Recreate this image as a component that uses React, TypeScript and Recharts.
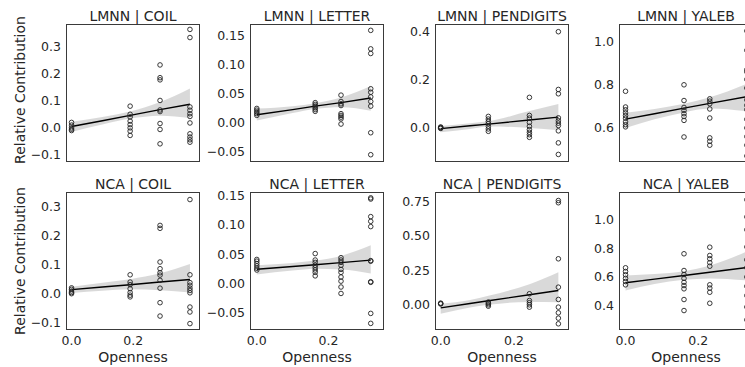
import React from 'react';
import { ComposedChart, Scatter, Line, Area, XAxis, YAxis } from 'recharts';

// Openness values per dataset (x groups)
const openCOIL = [0, 0.19, 0.287, 0.384];
const openLETTER = [0, 0.163, 0.235, 0.318];
const openPENDIGITS = [0, 0.13, 0.242, 0.321];
const openYALEB = [0, 0.161, 0.232, 0.334];

// Relative contribution values, one list per openness group
const lmnnCoil = [
  [0.02, 0.01, 0.0, -0.005, -0.01],
  [0.08, 0.05, 0.04, 0.025, 0.012, 0.0, -0.012, -0.028],
  [0.232, 0.185, 0.177, 0.101, 0.066, 0.06, 0.016, -0.006, -0.059],
  [0.363, 0.333, 0.077, 0.065, 0.052, 0.042, 0.018, -0.022, -0.034, -0.044, -0.053],
];
const lmnnLetter = [
  [0.024, 0.021, 0.018, 0.015, 0.012],
  [0.034, 0.031, 0.028, 0.025, 0.022, 0.019],
  [0.047, 0.036, 0.032, 0.029, 0.015, 0.012, 0.009, 0.006, -0.003],
  [0.159, 0.127, 0.119, 0.058, 0.052, 0.044, 0.036, 0.028, -0.018, -0.056],
];
const lmnnPendigits = [
  [0.004, 0.002, 0.0, -0.002],
  [0.048, 0.037, 0.027, 0.018, 0.007, -0.004, -0.014],
  [0.127, 0.052, 0.041, 0.023, 0.007, -0.007, -0.018, -0.028, -0.039],
  [0.4, 0.16, 0.142, 0.042, 0.03, 0.02, 0.01, -0.012, -0.062, -0.11],
];
const lmnnYaleb = [
  [0.77, 0.697, 0.684, 0.67, 0.657, 0.645, 0.628, 0.615, 0.605],
  [0.8, 0.727, 0.695, 0.681, 0.666, 0.653, 0.635, 0.558],
  [0.735, 0.724, 0.712, 0.688, 0.646, 0.554, 0.538, 0.52],
  [1.05, 0.96, 0.87, 0.86, 0.825, 0.785, 0.73, 0.705, 0.685, 0.64, 0.6, 0.56, 0.52, 0.47],
];
const ncaCoil = [
  [0.02, 0.015, 0.009, 0.004, 0.0],
  [0.065, 0.04, 0.031, 0.017, 0.004, -0.005, -0.011],
  [0.235, 0.225, 0.109, 0.086, 0.072, 0.064, 0.046, 0.019, -0.031, -0.077],
  [0.324, 0.065, 0.038, 0.029, 0.019, 0.011, 0.003, -0.046, -0.063, -0.103],
];
const ncaLetter = [
  [0.041, 0.038, 0.034, 0.03, 0.026, 0.023],
  [0.051, 0.04, 0.036, 0.031, 0.027, 0.023, 0.019, 0.013],
  [0.044, 0.04, 0.036, 0.031, 0.024, 0.019, 0.011, 0.004, -0.006, -0.017],
  [0.146, 0.144, 0.114, 0.106, 0.097, 0.039, 0.038, 0.003, 0.002, -0.051, -0.068],
];
const ncaPendigits = [
  [0.012, 0.009, 0.006],
  [0.02, 0.01, 0.0, -0.01],
  [0.08, 0.031, 0.015, 0.0, -0.017],
  [0.757, 0.741, 0.334, 0.128, 0.039, -0.017, -0.058, -0.097, -0.138],
];
const ncaYaleb = [
  [0.664, 0.638, 0.615, 0.59, 0.568, 0.545],
  [0.762, 0.645, 0.617, 0.59, 0.563, 0.54, 0.517, 0.442, 0.365],
  [0.808, 0.75, 0.727, 0.7, 0.675, 0.545, 0.522, 0.493, 0.416],
  [1.14, 1.02, 0.93, 0.81, 0.72, 0.665, 0.6, 0.535, 0.47, 0.39, 0.3],
];

// Regression fit and confidence band
const fitXCoil = [0, 0.1, 0.19, 0.287, 0.384];
const fitXLetter = [0, 0.1, 0.163, 0.235, 0.318];
const fitXPendigits = [0, 0.08, 0.13, 0.242, 0.321];
const fitXYaleb = [0, 0.08, 0.161, 0.232, 0.334];

const lmnnCoilFit = [0.005, 0.026, 0.046, 0.067, 0.087];
const lmnnCoilLo = [-0.015, 0.012, 0.034, 0.045, 0.036];
const lmnnCoilHi = [0.022, 0.04, 0.06, 0.095, 0.145];

const lmnnLetterFit = [0.013, 0.022, 0.028, 0.034, 0.042];
const lmnnLetterLo = [0.003, 0.016, 0.023, 0.026, 0.02];
const lmnnLetterHi = [0.024, 0.028, 0.033, 0.043, 0.063];

const lmnnPendigitsFit = [-0.003, 0.009, 0.016, 0.033, 0.045];
const lmnnPendigitsLo = [-0.018, -0.004, 0.006, 0.0, -0.01];
const lmnnPendigitsHi = [0.008, 0.02, 0.028, 0.07, 0.1];

const lmnnYalebFit = [0.641, 0.666, 0.692, 0.714, 0.745];
const lmnnYalebLo = [0.6, 0.64, 0.672, 0.69, 0.677];
const lmnnYalebHi = [0.67, 0.688, 0.712, 0.742, 0.805];

const ncaCoilFit = [0.014, 0.023, 0.031, 0.04, 0.049];
const ncaCoilLo = [0.002, 0.01, 0.015, 0.012, 0.004];
const ncaCoilHi = [0.024, 0.038, 0.05, 0.07, 0.102];

const ncaLetterFit = [0.0244, 0.029, 0.032, 0.0355, 0.0398];
const ncaLetterLo = [0.0154, 0.022, 0.025, 0.024, 0.017];
const ncaLetterHi = [0.031, 0.035, 0.039, 0.047, 0.065];

const ncaPendigitsFit = [-0.022, 0.009, 0.029, 0.073, 0.104];
const ncaPendigitsLo = [-0.065, -0.02, 0.0, 0.02, 0.019];
const ncaPendigitsHi = [0.007, 0.035, 0.065, 0.15, 0.237];

const ncaYalebFit = [0.559, 0.585, 0.61, 0.633, 0.666];
const ncaYalebLo = [0.505, 0.55, 0.58, 0.59, 0.575];
const ncaYalebHi = [0.61, 0.62, 0.64, 0.68, 0.778];

// Axis settings
const xTicks = [0, 0.2];
const xDomCoil = [-0.018, 0.4166];
const xDomLetter = [-0.019, 0.355];
const xDomPendigits = [-0.0155, 0.35];
const xDomYaleb = [-0.018, 0.351];

const titles = [
  ['LMNN | COIL', 'LMNN | LETTER', 'LMNN | PENDIGITS', 'LMNN | YALEB'],
  ['NCA | COIL', 'NCA | LETTER', 'NCA | PENDIGITS', 'NCA | YALEB'],
];

const panels = [
  [
    { open: openCOIL, ys: lmnnCoil, fx: fitXCoil, fit: lmnnCoilFit, lo: lmnnCoilLo, hi: lmnnCoilHi, xd: xDomCoil, yd: [-0.126, 0.383], yt: [-0.1, 0, 0.1, 0.2, 0.3], dec: 1 },
    { open: openLETTER, ys: lmnnLetter, fx: fitXLetter, fit: lmnnLetterFit, lo: lmnnLetterLo, hi: lmnnLetterHi, xd: xDomLetter, yd: [-0.0686, 0.17], yt: [-0.05, 0, 0.05, 0.1, 0.15], dec: 2 },
    { open: openPENDIGITS, ys: lmnnPendigits, fx: fitXPendigits, fit: lmnnPendigitsFit, lo: lmnnPendigitsLo, hi: lmnnPendigitsHi, xd: xDomPendigits, yd: [-0.1415, 0.432], yt: [0, 0.2, 0.4], dec: 1 },
    { open: openYALEB, ys: lmnnYaleb, fx: fitXYaleb, fit: lmnnYalebFit, lo: lmnnYalebLo, hi: lmnnYalebHi, xd: xDomYaleb, yd: [0.442, 1.082], yt: [0.6, 0.8, 1.0], dec: 1 },
  ],
  [
    { open: openCOIL, ys: ncaCoil, fx: fitXCoil, fit: ncaCoilFit, lo: ncaCoilLo, hi: ncaCoilHi, xd: xDomCoil, yd: [-0.125, 0.35], yt: [-0.1, 0, 0.1, 0.2, 0.3], dec: 1 },
    { open: openLETTER, ys: ncaLetter, fx: fitXLetter, fit: ncaLetterFit, lo: ncaLetterLo, hi: ncaLetterHi, xd: xDomLetter, yd: [-0.0793, 0.156], yt: [-0.05, 0, 0.05, 0.1, 0.15], dec: 2 },
    { open: openPENDIGITS, ys: ncaPendigits, fx: fitXPendigits, fit: ncaPendigitsFit, lo: ncaPendigitsLo, hi: ncaPendigitsHi, xd: xDomPendigits, yd: [-0.183, 0.819], yt: [0, 0.25, 0.5, 0.75], dec: 2 },
    { open: openYALEB, ys: ncaYaleb, fx: fitXYaleb, fit: ncaYalebFit, lo: ncaYalebLo, hi: ncaYalebHi, xd: xDomYaleb, yd: [0.229, 1.194], yt: [0.4, 0.6, 0.8, 1.0], dec: 1 },
  ],
];

const COL_LEFT = [66, 250, 435, 619];
const ROW_TOP = [24, 192];
const PW = 134;
const PH = 138;
const YW = 60;
const FONT = 'DejaVu Sans, sans-serif';
const TXT = '#262626';

const fmt = (d: number) => (v: number) => {
  const s = Number(v).toFixed(d);
  return s.startsWith('-') ? '\u2212' + s.slice(1) : s;
};

const OpenCircle = (p: any) => {
  if (p.cx == null || p.cy == null) return null;
  return <circle cx={p.cx} cy={p.cy} r={2.3} fill="none" stroke="#222" strokeWidth={0.9} />;
};

function Panel({ row, col }: { row: number; col: number }) {
  const cfg: any = panels[row][col];
  const left = COL_LEFT[col];
  const top = ROW_TOP[row];
  const bottom = row === 1;
  const scatterData = cfg.open.flatMap((x: number, i: number) => cfg.ys[i].map((y: number) => ({ x, y })));
  const lineData = cfg.fx.map((x: number, i: number) => ({ x, y: cfg.fit[i] }));
  const bandData = cfg.fx.map((x: number, i: number) => ({ x, band: [cfg.lo[i], cfg.hi[i]] }));
  const tickStyle = { fontSize: 12.5, fill: TXT, fontFamily: FONT };
  return (
    <>
      <div style={{ position: 'absolute', left: left - YW, top: top - 4 }}>
        <ComposedChart
          width={YW + PW + 6}
          height={bottom ? 4 + PH + 22 : 4 + PH + 4}
          margin={{ top: 4, right: 6, bottom: bottom ? 0 : 4, left: 0 }}
        >
          <XAxis
            type="number"
            dataKey="x"
            domain={cfg.xd}
            allowDataOverflow
            ticks={xTicks}
            hide={!bottom}
            height={22}
            tickFormatter={fmt(1)}
            tick={tickStyle}
            tickLine={false}
            axisLine={false}
            tickSize={4}
            tickMargin={2}
          />
          <YAxis
            type="number"
            dataKey="y"
            domain={cfg.yd}
            allowDataOverflow
            ticks={cfg.yt}
            width={YW}
            tickFormatter={fmt(cfg.dec)}
            tick={tickStyle}
            tickLine={false}
            axisLine={false}
            tickSize={3}
            tickMargin={2}
            interval={0}
          />
          <Area data={bandData} dataKey="band" type="monotone" stroke="none" fill="#000" fillOpacity={0.15} isAnimationActive={false} />
          <Scatter data={scatterData} dataKey="y" shape={OpenCircle} isAnimationActive={false} />
          <Line data={lineData} dataKey="y" type="linear" stroke="#000" strokeWidth={1.4} dot={false} isAnimationActive={false} />
        </ComposedChart>
      </div>
      <div
        style={{
          position: 'absolute', left, top, width: PW, height: PH, boxSizing: 'border-box',
          border: '1px solid #3a3a3a', pointerEvents: 'none',
        }}
      />
      <div
        style={{
          position: 'absolute', left, width: PW, top: top - 15.3, textAlign: 'center',
          fontSize: 14, lineHeight: '14px', color: TXT, fontFamily: FONT, whiteSpace: 'nowrap',
        }}
      >
        {titles[row][col]}
      </div>
      {bottom && (
        <div
          style={{
            position: 'absolute', left, width: PW, top: 350, textAlign: 'center',
            fontSize: 14, lineHeight: '14px', color: TXT, fontFamily: FONT, whiteSpace: 'nowrap',
          }}
        >
          Openness
        </div>
      )}
    </>
  );
}

export default function App() {
  const rows = [0, 1];
  const cols = [0, 1, 2, 3];
  return (
    <div
      style={{
        position: 'absolute', left: 0, top: 0, width: 745, height: 367, overflow: 'hidden',
        background: '#fff', fontFamily: FONT,
      }}
    >
      {rows.map((r) => cols.map((c) => <Panel key={`${r}-${c}`} row={r} col={c} />))}
      {[90, 261].map((cy, i) => (
        <div
          key={i}
          style={{
            position: 'absolute', left: 19.5, top: cy, transform: 'translate(-50%, -50%) rotate(-90deg)',
            fontSize: 14, lineHeight: '16px', color: TXT, fontFamily: FONT, whiteSpace: 'nowrap',
          }}
        >
          Relative Contribution
        </div>
      ))}
    </div>
  );
}
